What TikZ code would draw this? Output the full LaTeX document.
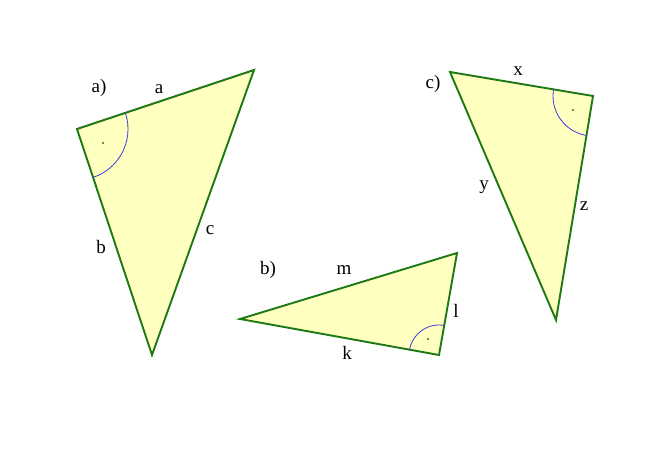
\documentclass[tikz,border=0pt]{standalone}
\usepackage{fontspec}
\setmainfont{Liberation Serif}
\definecolor{trifill}{RGB}{255,255,192}
\definecolor{triedge}{RGB}{30,120,20}
\definecolor{arcblue}{RGB}{60,60,220}
\begin{document}
\begin{tikzpicture}[x=1pt,y=-1pt,
  tri/.style={draw=triedge,fill=trifill,line width=1.9pt,line join=miter},
  rarc/.style={draw=arcblue,line width=0.8pt},
  lbl/.style={font=\fontsize{19}{22}\selectfont,inner sep=0pt},
  rdot/.style={fill=black,circle,inner sep=0pt,minimum size=1.8pt}]
\useasboundingbox (0,0) rectangle (660,457);
% vertices
\coordinate (A1) at (77,129); \coordinate (A2) at (254,70); \coordinate (A3) at (152,355);
\coordinate (B1) at (240,319); \coordinate (B2) at (457,253); \coordinate (B3) at (439,355);
\coordinate (C1) at (450,72); \coordinate (C2) at (593,96); \coordinate (C3) at (556,320);
% triangles
\path[tri] (A1) -- (A2) -- (A3) -- cycle;
\path[tri] (B1) -- (B2) -- (B3) -- cycle;
\path[tri] (C1) -- (C2) -- (C3) -- cycle;
% right-angle arcs
\begin{scope}\clip (A1) -- (A2) -- (A3) -- cycle; \path[rarc] (A1) circle[radius=51]; \end{scope}
\begin{scope}\clip (B1) -- (B2) -- (B3) -- cycle; \path[rarc] (B3) circle[radius=30]; \end{scope}
\begin{scope}\clip (C1) -- (C2) -- (C3) -- cycle; \path[rarc] (C2) circle[radius=40]; \end{scope}
\node[rdot] (da) at (103,143) {};
\node[rdot] (db) at (428,339) {};
\node[rdot] (dc) at (573,110) {};
% labels
\node[lbl] (la) at (99,88) {a)};
\node[lbl] (sa) at (159,89) {a};
\node[lbl] (sb) at (101,247) {b};
\node[lbl] (sc) at (210,230) {c};
\node[lbl] (lb) at (268,270) {b)};
\node[lbl] (sm) at (344,270) {m};
\node[lbl] (sl) at (456,311) {l};
\node[lbl] (sk) at (347,353) {k};
\node[lbl] (lc) at (433,84) {c)};
\node[lbl] (sx) at (518,71) {x};
\node[lbl] (sy) at (484,187) {y};
\node[lbl] (sz) at (584,206) {z};
\end{tikzpicture}
\end{document}
